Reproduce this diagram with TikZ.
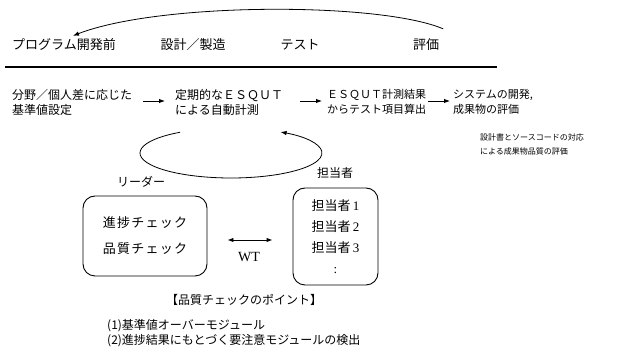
\documentclass[tikz,border=0pt]{standalone}
\usepackage{fontspec}
\setmainfont{Noto Sans CJK JP}
\newfontfamily\latn{Liberation Serif}
\newfontfamily\spaced[LetterSpace=10]{Noto Sans CJK JP}
\usetikzlibrary{arrows.meta,calc}
\begin{document}
\begin{tikzpicture}[x=1pt,y=1pt,
  hdr/.style={font=\fontsize{13}{15}\selectfont, inner sep=0pt},
  rowtxt/.style={font=\fontsize{12}{15}\selectfont, align=left, inner sep=0pt, anchor=west},
  rowtxtn/.style={font=\fontsize{11}{15}\selectfont, align=left, inner sep=0pt, anchor=west},
  tip/.style={-{Latex[length=6pt,width=4.5pt]}},
  arr/.style={line width=0.9pt, tip},
  dblarr/.style={line width=0.9pt, {Latex[length=6pt,width=4.5pt]}-{Latex[length=6pt,width=4.5pt]}},
  box/.style={draw, line width=0.9pt, rounded corners=12pt, align=center, inner sep=0pt},
  lbl/.style={font=\fontsize{12}{14}\selectfont, inner sep=0pt},
]
\useasboundingbox (0,0) rectangle (630,-352);

% header row
\node[hdr, anchor=west] (pre) at (12,-45) {プログラム開発前};
\node[hdr] (sek) at (193,-45) {設計／製造};
\node[hdr] (tst) at (300,-45) {テスト};
\node[hdr] (hyo) at (426,-45) {評価};
\draw[line width=1.1pt] (5,-67) -- (497,-67);

% feedback arc
\draw[arr, line width=0.8pt] ([shift={(4pt,10pt)}]hyo.north east)
  .. controls (380,-2) and (160,-2) .. ([shift={(9pt,3pt)}]pre.north);

% process row
\node[rowtxt] (c1) at (12,-102) {分野／個人差に応じた\\基準値設定};
\node[rowtxt] (c2) at (175,-102) {定期的なＥＳＱＵＴ\\による自動計測};
\node[rowtxtn] (c3) at (327,-102) {ＥＳＱＵＴ計測結果\\からテスト項目算出};
\node[rowtxtn] (c4) at (453,-102) {システムの開発,\\成果物の評価};
\node[font=\fontsize{8}{14}\selectfont, align=left, anchor=west, inner sep=0pt] (note) at (480,-144)
  {設計書とソースコードの対応\\による成果物品質の評価};

\draw[arr, shorten <=11pt, shorten >=10pt] ([yshift=1pt]c1.east) -- ([yshift=1pt]c2.west);
\draw[arr, shorten <=17pt, shorten >=5pt] ([yshift=1pt]c2.east) -- ([yshift=1pt]c3.west);
\draw[arr, shorten <=2pt, shorten >=3pt] ([yshift=1pt]c3.east) -- ([yshift=1pt]c4.west);

% cycle
\draw[arr, line width=0.8pt] (231,-153) ++(124:91pt and 25pt)
  arc[start angle=124, end angle=417, x radius=91pt, y radius=25pt];

% roles
\node[lbl] (ldrlbl) at (141,-182) {リーダー};
\node[lbl] (stflbl) at (335,-173) {担当者};

\node[box, minimum width=124pt, minimum height=80pt, font=\spaced\fontsize{13}{26}\selectfont] (ldr) at (145,-236)
  {進捗チェック\\品質チェック};
\node[box, minimum width=85pt, minimum height=97pt, font=\fontsize{13}{21}\selectfont] (stf) at (335.5,-236.5)
  {担当者\,{\latn 1}\\担当者\,{\latn 2}\\担当者\,{\latn 3}\\{\latn :}};

\draw[dblarr, shorten <=20pt, shorten >=20pt] ([yshift=-4pt]ldr.east) -- ([yshift=-3.5pt]stf.west);
\node[font=\latn\fontsize{14}{16}\selectfont, inner sep=0pt] (wt) at (249,-257) {WT};

% points
\node[lbl] (pt) at (244,-300) {【品質チェックのポイント】};
\node[lbl, anchor=west] (p1) at (107,-326) {(1)基準値オーバーモジュール};
\node[lbl, anchor=west] (p2) at (107,-341) {(2)進捗結果にもとづく要注意モジュールの検出};
\end{tikzpicture}
\end{document}
